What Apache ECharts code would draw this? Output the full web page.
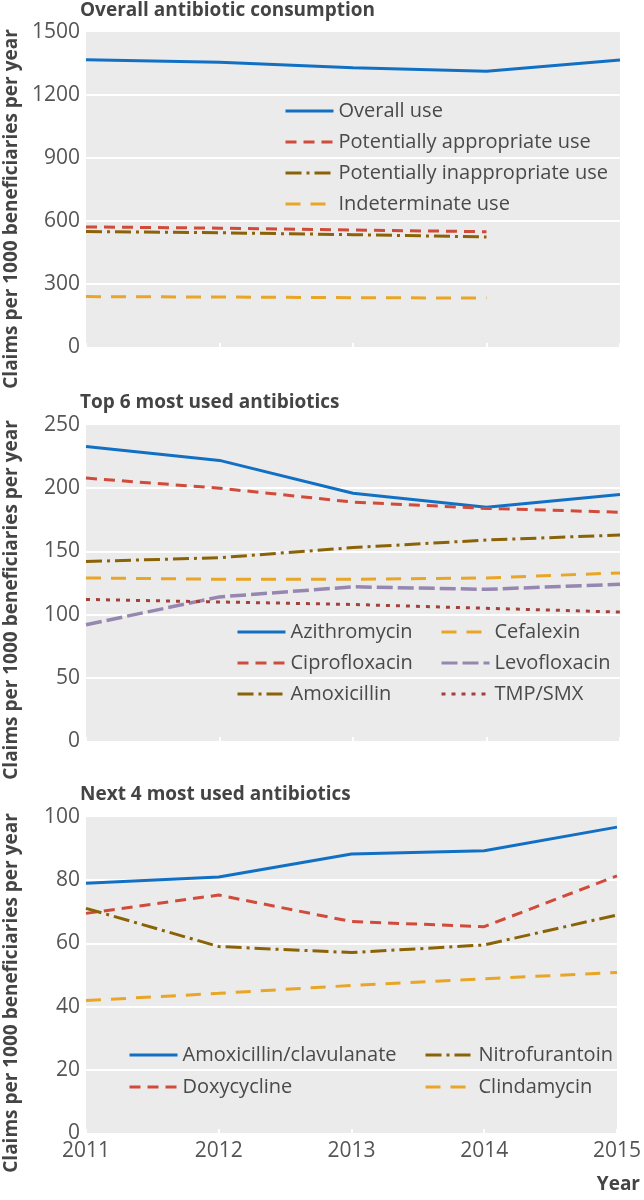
<!DOCTYPE html>
<html>
<head>
<meta charset="utf-8">
<script src="https://cdn.jsdelivr.net/npm/echarts@6/dist/echarts.min.js"></script>
<style>
  html, body { margin: 0; padding: 0; background: #fff; }
  #main { width: 644px; height: 1200px; }
</style>
</head>
<body>
<div id="main"></div>
<script>
const years = ['2011', '2012', '2013', '2014', '2015'];

// panel 1: overall consumption
const overallUse = [1368, 1356, 1330, 1313, 1367];
const appropriateUse = [572, 566, 557, 549, null];
const inappropriateUse = [550, 544, 535, 524, null];
const indeterminateUse = [240, 238, 235, 233, null];

// panel 2: top 6
const azithromycin = [233, 222, 196, 185, 195];
const ciprofloxacin = [208, 200, 189, 184, 181];
const amoxicillin = [142, 145, 153, 159, 163];
const cefalexin = [129, 128, 128, 129, 133];
const levofloxacin = [92, 114, 122, 120, 124];
const tmpSmx = [112, 110, 108, 105, 102];

// panel 3: next 4
const amoxClav = [79, 81, 88.3, 89.3, 96.8];
const doxycycline = [69.5, 75.3, 66.9, 65.3, 81.4];
const nitrofurantoin = [71.1, 59, 57.1, 59.5, 69];
const clindamycin = [41.9, 44.2, 46.7, 48.8, 50.8];

const yTicks1 = [0, 1500, 300];
const yTicks2 = [0, 250, 50];
const yTicks3 = [0, 100, 20];

const FONT = '"Open Sans", "DejaVu Sans", sans-serif';
const BLUE = '#1270c4', RED = '#d04b3a', BROWN = '#8a6308',
      ORANGE = '#e9a526', PURPLE = '#9687b0', MAROON = '#a3403c';

function line(name, data, idx, color, dash, width) {
  return {
    name: name, type: 'line', data: data,
    xAxisIndex: idx, yAxisIndex: idx,
    symbol: 'none', smooth: false, connectNulls: false,
    lineStyle: { color: color, width: width || 3, type: dash || 'solid', cap: 'butt' },
    itemStyle: { color: color },
    emphasis: { disabled: true }
  };
}

const DASH = [11, 7], DASHDOT = [16, 5, 3, 5], LONGDASH = [15, 10],
      PURPDASH = [16, 5], DOTS = [4, 6];

const grids = [
  { left: 86, right: 24, top: 32, height: 315 },
  { left: 86, right: 24, top: 425, height: 316 },
  { left: 86, right: 24, top: 817, height: 316 }
].map(g => Object.assign(g, { show: true, backgroundColor: '#ebebeb', borderWidth: 0 }));

function xAx(i, labels) {
  return {
    type: 'category', gridIndex: i, data: years, boundaryGap: false,
    axisLine: { show: false },
    axisTick: { show: true, inside: true, length: 4, lineStyle: { color: '#fff', width: 2 } },
    axisLabel: { show: labels, color: '#555', fontSize: 21, fontFamily: FONT, margin: 8 },
    splitLine: { show: false }
  };
}
function yAx(i, t) {
  return {
    type: 'value', gridIndex: i, min: t[0], max: t[1], interval: t[2],
    axisLine: { show: false }, axisTick: { show: false },
    axisLabel: { color: '#555', fontSize: 21, fontFamily: FONT, margin: 6, formatter: v => String(v) },
    splitLine: { show: true, showMinLine: false, showMaxLine: false, lineStyle: { color: '#fff', width: 2 } }
  };
}

const legendText = { color: '#4a4a4a', fontSize: 20, fontFamily: FONT, lineHeight: 22 };
function leg(left, top, data, gap) {
  return {
    orient: 'vertical', left: left, top: top, data: data,
    itemWidth: 48, itemHeight: 14, itemGap: gap, padding: 0,
    selectedMode: false, textStyle: legendText,
    itemStyle: { opacity: 0 },
    lineStyle: { width: 3 }
  };
}

const titleStyle = { color: '#444', fontSize: 19, fontWeight: 'bold', fontFamily: FONT };
const yName = 'Claims per 1000 beneficiaries per year';
function yLabel(cy) {
  return {
    type: 'text', x: 12, y: cy, rotation: Math.PI / 2,
    style: { text: yName, fill: '#444', font: 'bold 19px ' + FONT, align: 'center', verticalAlign: 'middle' }
  };
}

const chart = echarts.init(document.getElementById('main'));
chart.setOption({
  animation: false,
  title: [
    { text: 'Overall antibiotic consumption', left: 80, top: 1, padding: 0, textStyle: titleStyle },
    { text: 'Top 6 most used antibiotics', left: 80, top: 393, padding: 0, textStyle: titleStyle },
    { text: 'Next 4 most used antibiotics', left: 80, top: 785, padding: 0, textStyle: titleStyle }
  ],
  grid: grids,
  xAxis: [xAx(0, false), xAx(1, false), xAx(2, true)],
  yAxis: [yAx(0, yTicks1), yAx(1, yTicks2), yAx(2, yTicks3)],
  legend: [
    leg(284, 100, ['Overall use', 'Potentially appropriate use', 'Potentially inappropriate use', 'Indeterminate use'], 9),
    leg(236, 621, ['Azithromycin', 'Ciprofloxacin', 'Amoxicillin'], 9),
    leg(440, 621, ['Cefalexin', 'Levofloxacin', 'TMP/SMX'], 9),
    leg(128, 1044, ['Amoxicillin/clavulanate', 'Doxycycline'], 10),
    leg(424, 1044, ['Nitrofurantoin', 'Clindamycin'], 10)
  ],
  graphic: [
    yLabel(209), yLabel(600), yLabel(993),
    {
      type: 'text', x: 640, y: 1185,
      style: { text: 'Year', fill: '#444', font: 'bold 19px ' + FONT, align: 'right', verticalAlign: 'middle' }
    }
  ],
  series: [
    line('Overall use', overallUse, 0, BLUE),
    line('Potentially appropriate use', appropriateUse, 0, RED, DASH),
    line('Potentially inappropriate use', inappropriateUse, 0, BROWN, DASHDOT),
    line('Indeterminate use', indeterminateUse, 0, ORANGE, LONGDASH),

    line('Azithromycin', azithromycin, 1, BLUE),
    line('Ciprofloxacin', ciprofloxacin, 1, RED, DASH),
    line('Amoxicillin', amoxicillin, 1, BROWN, DASHDOT),
    line('Cefalexin', cefalexin, 1, ORANGE, LONGDASH),
    line('Levofloxacin', levofloxacin, 1, PURPLE, PURPDASH, 3.5),
    line('TMP/SMX', tmpSmx, 1, MAROON, DOTS),

    line('Amoxicillin/clavulanate', amoxClav, 2, BLUE),
    line('Doxycycline', doxycycline, 2, RED, DASH),
    line('Nitrofurantoin', nitrofurantoin, 2, BROWN, DASHDOT),
    line('Clindamycin', clindamycin, 2, ORANGE, LONGDASH)
  ]
});
</script>
</body>
</html>
